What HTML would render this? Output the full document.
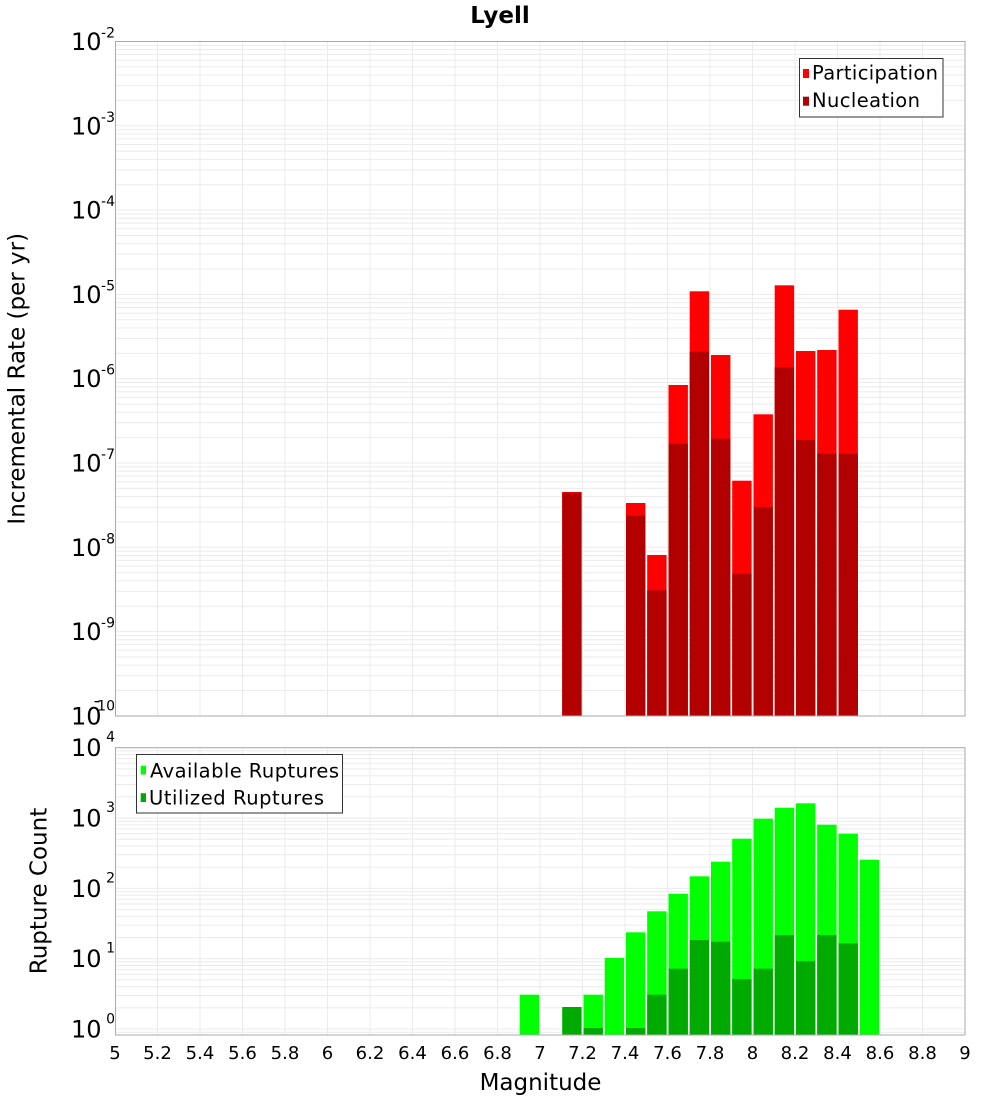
<!DOCTYPE html>
<html><head><meta charset="utf-8"><style>
html,body{margin:0;padding:0;background:#fff;}
svg{display:block;}
text{font-family:"DejaVu Sans","Liberation Sans",sans-serif;fill:#000;}
</style></head><body>
<svg width="1000" height="1100" viewBox="0 0 1000 1100" xmlns="http://www.w3.org/2000/svg">
<defs>
<g id="dt" stroke="#ebebeb" stroke-width="1">
<line x1="115" x2="965" y1="0" y2="0"/>
<line x1="115" x2="965" y1="3.86" y2="3.86"/>
<line x1="115" x2="965" y1="8.17" y2="8.17"/>
<line x1="115" x2="965" y1="13.06" y2="13.06"/>
<line x1="115" x2="965" y1="18.70" y2="18.70"/>
<line x1="115" x2="965" y1="25.38" y2="25.38"/>
<line x1="115" x2="965" y1="33.55" y2="33.55"/>
<line x1="115" x2="965" y1="44.08" y2="44.08"/>
<line x1="115" x2="965" y1="58.92" y2="58.92"/>
</g>
<g id="db" stroke="#ebebeb" stroke-width="1">
<line x1="115" x2="965" y1="0" y2="0"/>
<line x1="115" x2="965" y1="3.22" y2="3.22"/>
<line x1="115" x2="965" y1="6.82" y2="6.82"/>
<line x1="115" x2="965" y1="10.89" y2="10.89"/>
<line x1="115" x2="965" y1="15.60" y2="15.60"/>
<line x1="115" x2="965" y1="21.17" y2="21.17"/>
<line x1="115" x2="965" y1="27.99" y2="27.99"/>
<line x1="115" x2="965" y1="36.77" y2="36.77"/>
<line x1="115" x2="965" y1="49.16" y2="49.16"/>
</g>
</defs>

<!-- Title -->
<text x="500" y="23" font-size="23" font-weight="bold" text-anchor="middle">Lyell</text>

<!-- ===== TOP PLOT ===== -->
<rect x="115" y="41.5" width="850" height="674.5" fill="#fff"/>
<use href="#dt" y="41.5"/>
<use href="#dt" y="125.8"/>
<use href="#dt" y="210.1"/>
<use href="#dt" y="294.4"/>
<use href="#dt" y="378.7"/>
<use href="#dt" y="463.0"/>
<use href="#dt" y="547.3"/>
<use href="#dt" y="631.6"/>
<path stroke="#ebebeb" stroke-width="1" fill="none" d="M157.5 41.5V716M200 41.5V716M242.5 41.5V716M285 41.5V716M327.5 41.5V716M370 41.5V716M412.5 41.5V716M455 41.5V716M497.5 41.5V716M540 41.5V716M582.5 41.5V716M625 41.5V716M667.5 41.5V716M710 41.5V716M752.5 41.5V716M795 41.5V716M837.5 41.5V716M880 41.5V716M922.5 41.5V716"/>

<!-- participation bars -->
<g fill="#ff0000">
<rect x="562.2" y="492" width="19.4" height="224"/>
<rect x="626" y="503" width="19.4" height="213"/>
<rect x="647.2" y="555" width="19.4" height="161"/>
<rect x="668.5" y="385" width="19.4" height="331"/>
<rect x="689.7" y="291.3" width="19.4" height="424.7"/>
<rect x="711" y="355" width="19.4" height="361"/>
<rect x="732.2" y="480.7" width="19.4" height="235.3"/>
<rect x="753.5" y="414.3" width="19.4" height="301.7"/>
<rect x="774.7" y="285.3" width="19.4" height="430.7"/>
<rect x="796" y="351" width="19.4" height="365"/>
<rect x="817.2" y="350" width="19.4" height="366"/>
<rect x="838.5" y="309.7" width="19.4" height="406.3"/>
</g>
<!-- nucleation bars -->
<g fill="#b20000">
<rect x="562.2" y="492.7" width="19.4" height="223.3"/>
<rect x="626" y="515.7" width="19.4" height="200.3"/>
<rect x="647.2" y="590.3" width="19.4" height="125.7"/>
<rect x="668.5" y="443.7" width="19.4" height="272.3"/>
<rect x="689.7" y="351.7" width="19.4" height="364.3"/>
<rect x="711" y="438.7" width="19.4" height="277.3"/>
<rect x="732.2" y="573.7" width="19.4" height="142.3"/>
<rect x="753.5" y="507" width="19.4" height="209"/>
<rect x="774.7" y="367.3" width="19.4" height="348.7"/>
<rect x="796" y="440" width="19.4" height="276"/>
<rect x="817.2" y="453.7" width="19.4" height="262.3"/>
<rect x="838.5" y="453.7" width="19.4" height="262.3"/>
</g>
<rect x="115.5" y="41.5" width="849.5" height="674.5" fill="none" stroke="#aaaaaa" stroke-width="1"/>

<!-- top legend -->
<rect x="799.5" y="58.5" width="143.5" height="58.5" fill="#fff" stroke="#333" stroke-width="1"/>
<rect x="803" y="69" width="6" height="9" fill="#ff0000"/>
<rect x="803" y="96.7" width="6" height="9" fill="#b20000"/>
<text x="812" y="79.5" font-size="19.5" textLength="126" lengthAdjust="spacing">Participation</text>
<text x="812" y="107" font-size="19.5" textLength="108" lengthAdjust="spacing">Nucleation</text>

<!-- top y tick labels -->
<g font-size="24">
<text x="71" y="50">10</text>
<text x="71" y="134.3">10</text>
<text x="71" y="218.6">10</text>
<text x="71" y="302.9">10</text>
<text x="71" y="387.2">10</text>
<text x="71" y="471.5">10</text>
<text x="71" y="555.8">10</text>
<text x="71" y="640.1">10</text>
<text x="71" y="724.4">10</text>
</g>
<g font-size="14" text-anchor="end">
<text x="115" y="37.5">-2</text>
<text x="115" y="121.8">-3</text>
<text x="115" y="206.1">-4</text>
<text x="115" y="290.4">-5</text>
<text x="115" y="374.7">-6</text>
<text x="115" y="459">-7</text>
<text x="115" y="543.3">-8</text>
<text x="115" y="627.6">-9</text>
<text x="115" y="710.5">10</text>
</g>
<rect x="94.5" y="701" width="5" height="1.3" fill="#000"/>

<text transform="translate(24.5,378.75) rotate(-90)" font-size="23" text-anchor="middle">Incremental Rate (per yr)</text>

<!-- ===== BOTTOM PLOT ===== -->
<rect x="115" y="747.7" width="850" height="287.8" fill="#fff"/>
<use href="#db" y="747.7"/>
<use href="#db" y="818.0"/>
<use href="#db" y="888.4"/>
<use href="#db" y="958.7"/>
<line x1="115" x2="965" y1="1029" y2="1029" stroke="#ebebeb"/>
<line x1="115" x2="965" y1="1032.2" y2="1032.2" stroke="#ebebeb"/>
<path stroke="#ebebeb" stroke-width="1" fill="none" d="M157.5 747.7V1035.5M200 747.7V1035.5M242.5 747.7V1035.5M285 747.7V1035.5M327.5 747.7V1035.5M370 747.7V1035.5M412.5 747.7V1035.5M455 747.7V1035.5M497.5 747.7V1035.5M540 747.7V1035.5M582.5 747.7V1035.5M625 747.7V1035.5M667.5 747.7V1035.5M710 747.7V1035.5M752.5 747.7V1035.5M795 747.7V1035.5M837.5 747.7V1035.5M880 747.7V1035.5M922.5 747.7V1035.5"/>

<!-- available -->
<g fill="#00ff00">
<rect x="519.7" y="994.7" width="19.4" height="40.8"/>
<rect x="583.5" y="994.7" width="19.4" height="40.8"/>
<rect x="604.7" y="958" width="19.4" height="77.5"/>
<rect x="626" y="932.3" width="19.4" height="103.2"/>
<rect x="647.2" y="911.3" width="19.4" height="124.2"/>
<rect x="668.5" y="893.7" width="19.4" height="141.8"/>
<rect x="689.7" y="876.3" width="19.4" height="159.2"/>
<rect x="711" y="861.7" width="19.4" height="173.8"/>
<rect x="732.2" y="838.7" width="19.4" height="196.8"/>
<rect x="753.5" y="818.7" width="19.4" height="216.8"/>
<rect x="774.7" y="807.7" width="19.4" height="227.8"/>
<rect x="796" y="803.3" width="19.4" height="232.2"/>
<rect x="817.2" y="824.7" width="19.4" height="210.8"/>
<rect x="838.5" y="833.7" width="19.4" height="201.8"/>
<rect x="859.7" y="859.7" width="19.4" height="175.8"/>
</g>
<!-- utilized -->
<g fill="#00aa00">
<rect x="562.2" y="1007" width="19.4" height="28.5"/>
<rect x="583.5" y="1028" width="19.4" height="7.5"/>
<rect x="626" y="1028" width="19.4" height="7.5"/>
<rect x="647.2" y="994.7" width="19.4" height="40.8"/>
<rect x="668.5" y="968.7" width="19.4" height="66.8"/>
<rect x="689.7" y="940" width="19.4" height="95.5"/>
<rect x="711" y="941.7" width="19.4" height="93.8"/>
<rect x="732.2" y="979" width="19.4" height="56.5"/>
<rect x="753.5" y="968.7" width="19.4" height="66.8"/>
<rect x="774.7" y="935" width="19.4" height="100.5"/>
<rect x="796" y="961" width="19.4" height="74.5"/>
<rect x="817.2" y="935" width="19.4" height="100.5"/>
<rect x="838.5" y="943.3" width="19.4" height="92.2"/>
</g>
<rect x="115.5" y="747.7" width="849.5" height="287.3" fill="none" stroke="#aaaaaa" stroke-width="1"/>

<!-- bottom legend -->
<rect x="136.5" y="754.5" width="206" height="58.5" fill="#fff" stroke="#333" stroke-width="1"/>
<rect x="140.7" y="765.7" width="5.3" height="8.8" fill="#00ff00"/>
<rect x="140.7" y="793.2" width="5.3" height="8.8" fill="#00aa00"/>
<text x="150" y="777.5" font-size="19.5" textLength="189" lengthAdjust="spacing">Available Ruptures</text>
<text x="149" y="804.5" font-size="19.5" textLength="175" lengthAdjust="spacing">Utilized Ruptures</text>

<!-- bottom y tick labels -->
<g font-size="24">
<text x="71" y="756.2">10</text>
<text x="71" y="826.5">10</text>
<text x="71" y="896.9">10</text>
<text x="71" y="967.2">10</text>
<text x="71" y="1037.5">10</text>
</g>
<g font-size="14" text-anchor="end">
<text x="115" y="741.7">4</text>
<text x="115" y="812">3</text>
<text x="115" y="882.4">2</text>
<text x="115" y="952.7">1</text>
<text x="115" y="1023.3">0</text>
</g>

<text transform="translate(46.5,891) rotate(-90)" font-size="23" text-anchor="middle">Rupture Count</text>

<!-- x tick labels -->
<g font-size="18" text-anchor="middle">
<text x="115" y="1059">5</text>
<text x="157.5" y="1059">5.2</text>
<text x="200" y="1059">5.4</text>
<text x="242.5" y="1059">5.6</text>
<text x="285" y="1059">5.8</text>
<text x="327.5" y="1059">6</text>
<text x="370" y="1059">6.2</text>
<text x="412.5" y="1059">6.4</text>
<text x="455" y="1059">6.6</text>
<text x="497.5" y="1059">6.8</text>
<text x="540" y="1059">7</text>
<text x="582.5" y="1059">7.2</text>
<text x="625" y="1059">7.4</text>
<text x="667.5" y="1059">7.6</text>
<text x="710" y="1059">7.8</text>
<text x="752.5" y="1059">8</text>
<text x="795" y="1059">8.2</text>
<text x="837.5" y="1059">8.4</text>
<text x="880" y="1059">8.6</text>
<text x="922.5" y="1059">8.8</text>
<text x="965" y="1059">9</text>
</g>
<text x="540.5" y="1090" font-size="23" text-anchor="middle">Magnitude</text>
</svg>
</body></html>
